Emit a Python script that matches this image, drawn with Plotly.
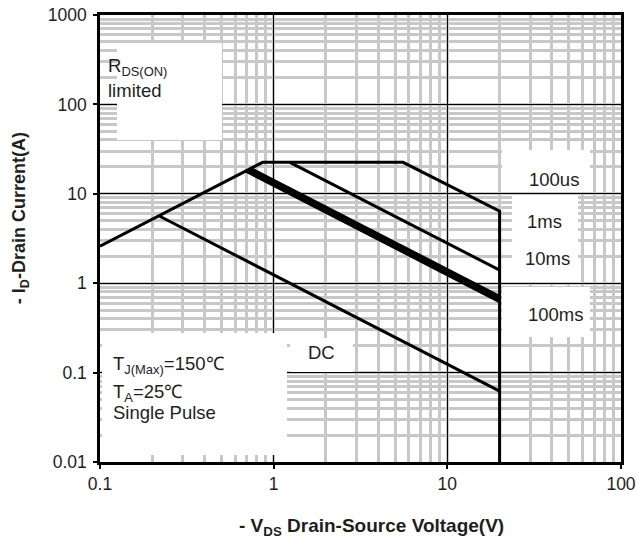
import plotly.graph_objects as go

# SOA boundary (RDS(on) limit -> current limit -> 100us -> Vds max)
boundary_v = [0.1, 0.865, 5.56, 20, 20]
boundary_i = [2.6, 22.5, 22.5, 6.4, 0.01]
# 1 ms
ms1_v = [1.24, 20]
ms1_i = [22.5, 1.40]
# 10 ms
ms10_v = [0.733, 20]
ms10_i = [19.06, 0.70]
# 100 ms
ms100_v = [0.696, 20]
ms100_i = [18.1, 0.63]
# DC
dc_v = [0.218, 20]
dc_i = [5.68, 0.062]

x_ticks = [0.1, 1, 10, 100]
x_ticktext = ["0.1", "1", "10", "100"]
y_ticks = [0.01, 0.1, 1, 10, 100, 1000]
y_ticktext = ["0.01", "0.1", "1", "10", "100", "1000"]

FONT = "Liberation Sans, Arial, sans-serif"
TXT = "#1e1e1e"

W, H = 636, 546
ML, MR, MT, MB = 100, 15, 15, 84
PW, PH = W - ML - MR, H - MT - MB

fig = go.Figure()
for xs, ys, w in [(boundary_v, boundary_i, 3), (ms1_v, ms1_i, 3),
                  (ms10_v, ms10_i, 4), (ms100_v, ms100_i, 4), (dc_v, dc_i, 3)]:
    fig.add_trace(go.Scatter(x=xs, y=ys, mode="lines",
                             line=dict(color="black", width=w),
                             showlegend=False, hoverinfo="skip"))

# white label boxes (pixel rectangles: left, top, right, bottom)
boxes = [
    (117, 43, 222, 140),
    (102, 333, 287, 455),
    (290, 338, 353, 372),
    (502, 150, 590, 192),
    (512, 195, 578, 282),
    (502, 287, 590, 337),
]
for l, t, r, b in boxes:
    fig.add_annotation(text=" ", xref="paper", yref="paper",
                       x=(l - ML) / PW, y=(H - MB - b) / PH,
                       xanchor="left", yanchor="bottom", showarrow=False,
                       width=r - l, height=b - t, bgcolor="white",
                       borderpad=0, borderwidth=0)

def ann(text, x, y, size=18.5, xanchor="left", bold=False, angle=0):
    fig.add_annotation(text=text, xref="paper", yref="paper", x=x, y=y,
                       xanchor=xanchor, yanchor="middle", showarrow=False,
                       textangle=angle,
                       font=dict(family=FONT, size=size, color=TXT,
                                 weight="bold" if bold else "normal"),
                       align="left")

ann("R<sub>DS(ON)</sub>", 0.012, 0.883)
ann("limited", 0.012, 0.831)
ann("T<sub>J(Max)</sub>=150℃", 0.022, 0.218)
ann("T<sub>A</sub>=25℃", 0.022, 0.154)
ann("Single Pulse", 0.022, 0.110)
ann("DC", 0.425, 0.245, xanchor="center")
ann("100us", 0.872, 0.633, xanchor="center")
ann("1ms", 0.854, 0.539, xanchor="center")
ann("10ms", 0.858, 0.455, xanchor="center")
ann("100ms", 0.875, 0.330, xanchor="center")

# axis titles
ann("- V<sub>DS</sub> Drain-Source Voltage(V)", 0.522, -0.145, size=19,
    xanchor="center", bold=True)
ann("- I<sub>D</sub>-Drain Current(A)", -0.152, 0.545, size=18,
    xanchor="center", bold=True, angle=-90)

axis_common = dict(
    type="log", showline=True, linecolor="black", linewidth=2.5, mirror=True,
    showgrid=True, gridcolor="black", gridwidth=1, ticks="outside", ticklen=4,
    tickcolor="black", tickwidth=1.5, zeroline=False, automargin=False,
    tickfont=dict(family=FONT, size=17.5, color=TXT),
    minor=dict(dtick="D1", showgrid=True, gridcolor="#c8c8c8", gridwidth=3,
               ticks=""),
)

fig.update_xaxes(**axis_common, range=[-1, 2], tickvals=x_ticks,
                 ticktext=x_ticktext)
fig.update_yaxes(**axis_common, range=[-2, 3], tickvals=y_ticks,
                 ticktext=y_ticktext, ticklabelstandoff=3)

fig.update_layout(width=W, height=H, plot_bgcolor="white",
                  paper_bgcolor="white",
                  margin=dict(l=ML, r=MR, t=MT, b=MB))

fig.write_html("out.html", config={"displayModeBar": False},
               post_script="document.body.style.margin='0px';")
